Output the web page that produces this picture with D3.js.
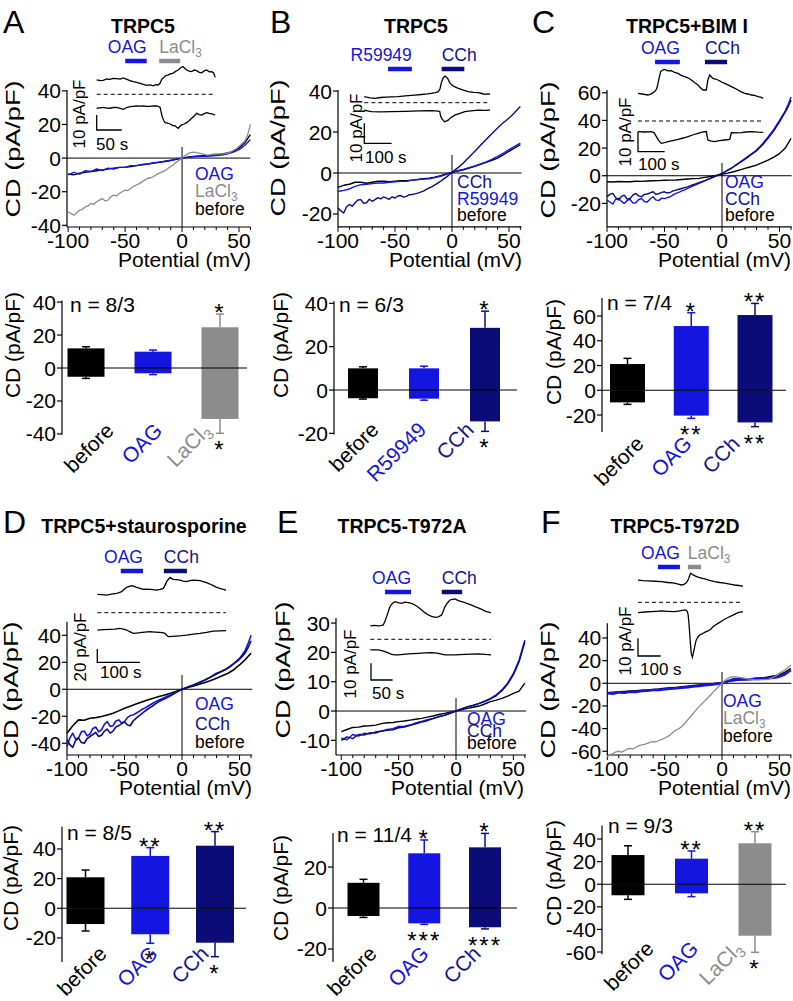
<!DOCTYPE html>
<html><head><meta charset="utf-8">
<script src="https://cdn.jsdelivr.net/npm/d3@7"></script>
<style>
body{margin:0;background:#fff}
svg{display:block}
text{font-family:"Liberation Sans",Arial,Helvetica,sans-serif}
</style>
</head><body>
<svg id="c" width="793" height="1001"></svg>
<script>
// ===================== DATA =====================
// membrane potentials (mV): 5 mV grid and 2.5 mV grid (for the noisier traces)
const V  = [-100,-95,-90,-85,-80,-75,-70,-65,-60,-55,-50,-45,-40,-35,-30,-25,-20,-15,-10,-5,0,5,10,15,20,25,30,35,40,45,50,55,60];
const V2 = [-100,-97.5,-95,-92.5,-90,-87.5,-85,-82.5,-80,-77.5,-75,-72.5,-70,-67.5,-65,-62.5,-60,-57.5,-55,-52.5,-50,-47.5,-45,-42.5,-40,-37.5,-35,-32.5,-30,-27.5,-25,-22.5,-20,-17.5,-15,-12.5,-10,-7.5,-5,-2.5,0,2.5,5,7.5,10,12.5,15,17.5,20,22.5,25,27.5,30,32.5,35,37.5,40,42.5,45,47.5,50,52.5,55,57.5,60];

// I-V current densities (pA/pF)
const A_before = [-9.5,-10,-9,-8.5,-8,-7.5,-7,-6.5,-6,-5.5,-5.5,-5,-4.5,-4,-3.5,-3,-2.5,-2,-1.5,-0.8,0,0.6,1,1.2,1.4,1.6,2,2.4,3,4,6,9,14];
const A_OAG    = [-10,-8.5,-9.5,-7.5,-8,-6.5,-7.5,-6,-6.5,-5.5,-5.5,-4.5,-4.5,-3.8,-3.5,-2.8,-2.5,-1.8,-1.3,-0.6,0,0.5,0.8,1,1,1.2,1.5,1.8,2.5,3.5,5,7.5,11];
const A_LaCl3  = [-32,-33,-34,-32.5,-31,-30.5,-29,-28.5,-27,-27.5,-26,-25,-24,-25.5,-25,-23,-22,-22.5,-21,-20,-19,-19.3,-18,-16.8,-16,-15.2,-14,-13,-12,-11.7,-11,-9.8,-9,-8.2,-7.5,-6.2,-5,-3.8,-2.5,-1.2,0,1.5,2.5,3.3,3.5,3.2,3,2.5,2,1.8,2,2.3,2.5,2.4,2.5,2.7,3,3.6,4.5,5.5,7,8.5,10,13.5,20];

const B_before = [-7,-6,-5.5,-4.5,-4.5,-5,-4.5,-4,-4,-4.2,-4,-3.8,-3.8,-3.5,-3.2,-2.8,-2.5,-2,-1.3,-0.5,0.3,1,1.6,2.4,3.2,4.2,5.2,6.2,7.3,8.8,10.6,12.2,13.8];
const B_R59949 = [-9,-8.5,-7.8,-6.5,-5.7,-5.5,-5.2,-4.9,-4.9,-4.5,-4.3,-4.1,-4,-3.5,-3.2,-3,-2.8,-2.2,-1.6,-0.7,0.3,1.1,1.8,2.6,3.4,4.4,5.4,6.6,8.1,9.6,11.4,13,14.6];
const B_CCh    = [-17,-18.5,-19.5,-16.5,-15.4,-16.2,-14.5,-13.2,-13,-14.8,-14.5,-12.8,-13.8,-13,-12,-12.6,-11.7,-12.3,-12.8,-11.6,-12.2,-11.2,-11,-11.8,-11.4,-10.6,-10.5,-10.2,-9.8,-9.3,-8.8,-8,-7.3,-6.6,-5.8,-4.9,-4,-3,-2,-0.9,0.3,1.4,2.5,3.7,4.9,6.3,7.7,9.1,10.6,12,13.5,14.9,16.3,17.8,19.2,20.6,22,23.3,24.5,25.6,26.8,28.1,29.5,31,32.5];

const C_before = [-4.3,-4.5,-4.2,-4.4,-4.3,-4,-4.1,-3.8,-3.6,-3.5,-3.3,-3.2,-3.1,-2.7,-2.4,-2.1,-1.9,-1.2,-0.6,0.2,1,1.9,2.9,4.1,5.3,6.5,7.7,9.5,11.3,13.5,16,20,27];
const C_OAG    = [-17.6,-19,-20.5,-17,-16.4,-18.5,-20,-18,-17,-19.8,-19.5,-17.2,-16.5,-18.6,-19,-16.8,-15.2,-17.5,-18,-16.2,-16.5,-15.8,-15.2,-13.8,-12.8,-12,-11,-10.2,-9.2,-8.3,-7.3,-6.4,-5.5,-4.6,-3.7,-2.8,-1.9,-1,0,0.8,1.7,2.8,4,5.2,6.5,8,9.5,11,12.5,14,15.5,17,18.6,20.7,23,25.5,28,30.7,33.5,36.7,40,43.5,47,51.5,57];
const C_CCh    = [-15.2,-13.5,-12.8,-15.8,-17.5,-15,-14,-16.8,-16.5,-14,-12.8,-14.6,-15.2,-13.5,-13.2,-12.4,-11.6,-13.4,-13,-12,-11.6,-12.5,-12,-11,-10.4,-9.8,-9.2,-8.6,-8,-7.2,-6.5,-5.8,-5,-4.2,-3.5,-2.7,-1.9,-1,0,0.8,1.7,2.8,4,5.2,6.5,7.8,9.2,10.6,12,13.5,15,16.5,18,20,22,24.5,27,29.7,32.5,35.7,39,42.5,46,50,54.7];

const D_before = [-32.6,-27,-22.7,-23,-21.5,-21,-20.2,-19,-17.8,-16,-14,-12.5,-10.9,-9.4,-7.9,-6.6,-5.4,-4.2,-3,-1.5,0,1.3,2.5,3.8,5,6.5,8.1,10,11.9,14.5,18,22,26.7];
const D_OAG    = [-42.5,-36,-32.6,-37,-36,-31.5,-31,-34.5,-33,-29,-28,-31.5,-30,-26,-24,-27.5,-27,-23.5,-22.7,-25,-24,-21,-19.5,-19,-17.8,-16.5,-15,-14,-12.8,-11.5,-10.2,-9,-7.9,-7,-6,-5,-4.2,-3,-2,-1,0,0.8,1.6,2.4,3.2,4.1,5,6,6.9,8.1,9.3,10.6,11.9,12.7,13.5,14.5,15.6,17.2,19,21,23,25.8,29,34,40];
const D_CCh    = [-37.5,-41,-43,-38,-36,-39.5,-40,-36.5,-35,-33.5,-32,-35,-34,-31,-29.5,-32.5,-31,-28,-27,-25.5,-24.2,-26.5,-27,-23.5,-21.5,-19.8,-18,-16.4,-14.8,-13.4,-12,-10.5,-9.1,-8,-7,-6,-4.9,-3.6,-2.3,-1.1,0,0.8,1.6,2.4,3.2,4.1,5,6,6.9,8,9,10.1,11.3,12.4,13.5,14.7,16,17.5,19,20.5,22.2,24.5,27,31,36];

const E_before = [-7,-6.3,-5.6,-5.5,-5.1,-5,-4.8,-4.3,-4,-3.9,-3.6,-3.4,-3.1,-2.8,-2.5,-2.1,-1.7,-1.2,-0.8,-0.4,0,0.5,0.9,1.3,1.7,2.4,3.2,3.7,4.3,5.1,6,6.8,9.5];
const E_OAG    = [-9.3,-9.8,-8,-8.5,-7.6,-7.8,-7.1,-6.9,-6.3,-6,-5.3,-5.2,-4.8,-4.1,-3.6,-3,-2.5,-1.9,-1.4,-0.7,0,0.8,1.5,2,2.6,3.4,4.3,5.5,7.2,9.5,12.8,17.4,24.2];
const E_CCh    = [-10,-8.8,-9.4,-8,-8.2,-7.4,-7.5,-6.8,-6.6,-6.4,-5.7,-5.5,-4.9,-4.4,-3.8,-3.3,-2.6,-2,-1.5,-0.8,0,0.6,1.4,1.9,2.5,3.2,4.1,5.2,6.9,9.2,12.3,16.8,23.5];

const F_before = [-8.2,-7.8,-7.5,-7.2,-6.8,-6.5,-6.1,-5.8,-5.4,-5,-4.4,-4,-3.6,-3.1,-2.6,-2,-1.5,-1,-0.5,0,0.5,1.5,2.2,2.8,3.2,3.6,4.2,4.8,5.5,6.4,7.4,9.8,13.2];
const F_OAG    = [-8.8,-9.3,-8,-8.4,-7.4,-7.6,-6.8,-6.5,-5.9,-5.8,-5.2,-4.8,-4.4,-3.9,-3.4,-2.9,-2.4,-1.8,-1.2,-0.5,0,1.8,3.5,3.7,3.5,3.6,4.1,4.3,4.4,5,5.9,8,11.8];
const F_LaCl3  = [-64.7,-63,-62,-60.5,-60,-60.8,-59.5,-58,-57.4,-57.8,-56.5,-55,-54.4,-54,-53,-52,-51.5,-51.8,-50.5,-49.5,-48.5,-47,-45.5,-43,-41.2,-40,-38.2,-35.5,-32.4,-29.5,-26.5,-23.5,-20.6,-18,-15.5,-13,-10.3,-7.6,-5,-2.5,0,2.5,4.4,5.4,5.9,5.6,5.2,4.8,4.4,4,3.6,3.2,2.9,3,3.2,3.3,3.5,4.3,5.5,7,8.8,10.3,12,14,16.2];

// inset time courses: [time (s), current density (pA/pF)]
const A_tUp  = [[0,9.6],[7,9.1],[13,9.3],[20,10.2],[27,10],[33,10.6],[40,10.4],[47,10.1],[53,10.9],[58,10.3],[63,9.6],[68,9],[73,8.4],[80,7.9],[87,7.3],[93,6.6],[100,6],[107,6.3],[113,5.6],[118,6.4],[123,6.2],[127,7.5],[130,10],[134,11.2],[137,12.2],[142,12.8],[147,13.6],[152,13.9],[157,15.1],[162,16],[167,17.3],[170,18.2],[173,18.4],[177,17],[180,16.2],[185,15.5],[190,15.1],[195,16.2],[200,15.8],[205,14.6],[210,14.4],[215,15.6],[220,16.2],[225,15],[230,15.1],[234,14.2],[237,11.3]];
const A_tLow = [[0,-9.3],[7,-9],[13,-8.7],[20,-9.2],[27,-9.3],[33,-8.8],[40,-8.7],[47,-9.4],[53,-10],[60,-8.8],[67,-8.2],[73,-8],[80,-7.8],[87,-7.9],[93,-7.8],[100,-8.1],[107,-8],[113,-7.7],[120,-7.8],[125,-8.3],[127,-8.9],[129,-12],[131,-14.9],[134,-17.5],[137,-18.9],[142,-19.2],[147,-19.8],[152,-20.8],[157,-21],[160,-22],[163,-22.7],[166,-21.5],[170,-20.4],[175,-19.8],[180,-18.9],[185,-17.5],[190,-16],[195,-14.5],[200,-12.7],[205,-13.5],[210,-13.8],[215,-12.9],[220,-12.2],[225,-12.7],[230,-13.1],[234,-13.5],[237,-13.8]];
const B_tUp  = [[0,3],[20,2.4],[39,2.2],[60,2.6],[80,2.8],[100,2.9],[124,3],[150,3.4],[185,3.8],[210,4.1],[230,4.4],[246,4.7],[260,5],[271,5.5],[277,7],[283,10.5],[289,12.5],[295,13.3],[300,12.8],[305,12.2],[312,10.2],[320,8.8],[330,8],[344,7.2],[360,6.4],[380,5.5],[400,5.2],[417,5],[430,4.6],[441,4.2],[450,4.4],[460,4.3]];
const B_tLow = [[0,-3.7],[20,-4.3],[27,-4.5],[60,-4.6],[100,-4.5],[150,-4.3],[200,-4.1],[246,-4],[270,-4.2],[276,-4.4],[279,-6.5],[283,-7.8],[290,-9],[293,-9.5],[300,-9.2],[307,-8.7],[315,-7.6],[331,-6.2],[350,-5.3],[368,-4.5],[390,-4.1],[417,-3.7],[440,-3.8],[460,-3.7]];
const C_tUp  = [[0,13.8],[15,13.5],[37.5,13],[50,13.6],[62.5,14.7],[70,16],[75,18.8],[80,22],[85,24.7],[92,25.5],[100,25.8],[112,25.1],[125,25.2],[137,24.3],[150,23.8],[162,22.8],[175,22.2],[187,21.6],[200,20.5],[212,19.2],[225,18],[235,16.5],[244,15.5],[256,15.5],[262,20.5],[269,23],[275,22.1],[281,21.3],[290,21],[300,20.5],[312,19.6],[325,18.8],[337,18.1],[350,17.2],[362,16.4],[375,15.5],[387,14.6],[400,13.8],[412,13.5],[425,13],[437,12.8],[450,12.2],[460,11.9],[469,11.3]];
const C_tLow = [[0,-5.3],[25,-5.5],[50,-5.3],[60,-5.8],[69,-7.8],[78,-9.8],[87.5,-11.2],[100,-10.8],[112.5,-10.3],[130,-9.8],[150,-9.2],[170,-8.5],[187.5,-7.8],[205,-7],[225,-6.2],[240,-5.6],[256,-5.3],[262,-9.5],[275,-10.1],[287.5,-10.3],[305,-9.8],[325,-9.5],[344,-9.2],[350,-5.8],[370,-5.9],[387.5,-5.8],[405,-5.5],[425,-5.3],[450,-5.6],[469,-5.7]];
const D_tUp  = [[0,27.5],[11,27],[21.9,26.5],[33,28],[45.3,29],[51,30],[57,31.5],[63,35],[68.8,38],[75,39.5],[80.5,40.5],[86,39.5],[92.2,38],[100,36.5],[107.8,35],[115,35.5],[123.4,35],[131,34.5],[139,34],[147,35],[154.7,36.5],[158.6,41],[162.5,46.5],[166.4,50],[170.3,53],[174,51.5],[178,50],[186,49.5],[193.8,49],[201,47.5],[209.4,46.5],[217,48],[225,49],[233,48.5],[240.6,48],[248.4,46.5],[256,45],[264,43],[272,40.5],[279.7,38],[287,36.5],[295.3,35],[301.6,34]];
const D_tLow = [[0,-26],[15,-25.5],[29.7,-25],[41,-24.5],[53.1,-23.5],[61,-24.5],[68.8,-26],[76,-28.5],[84.4,-31],[92,-30.5],[100,-30],[111,-29],[123.4,-28.5],[135,-29],[146.9,-29.5],[152,-30],[158.6,-31],[162,-33.5],[166.4,-36],[176,-35.5],[185.9,-35],[197,-34.5],[209.4,-33.5],[225,-32],[240.6,-31],[256,-29.5],[271.9,-27.5],[287,-27.2],[301.6,-27]];
const E_tUp  = [[0,8],[9,8.3],[18.5,8],[24,8.2],[30,8.6],[34,11],[37.7,13.6],[41.5,16.5],[45.4,19.6],[51,21.5],[56.9,22.6],[64.6,22],[72.3,21.6],[80,22.3],[87.7,22],[95,21.5],[103,20.6],[110.8,19.2],[118.5,17.6],[126,16],[133.8,14.6],[141.5,13.8],[149.2,13.2],[157,13.5],[164.6,14.6],[168.5,17],[172.3,19.6],[178,21.8],[183.8,23.6],[189.6,24],[195.4,24.2],[203,23.2],[210.8,22.6],[218.5,22],[226,21.2],[233.8,20.5],[241.5,19.6],[249.2,18.8],[256.9,18],[262.7,17.2],[268.5,16.6],[273.5,16.3],[278.5,16]];
const E_tLow = [[0,-6.4],[18.5,-6.4],[26,-6.8],[33.8,-7.4],[41.5,-8.2],[49.2,-9],[57,-9.3],[64.6,-9.4],[76,-9.1],[87.7,-8.8],[99,-8.6],[110.8,-8.4],[126,-8.2],[141.5,-8],[149.2,-8.1],[156.9,-8.4],[164.6,-8.9],[172.3,-9.4],[184,-9.4],[195.4,-9.4],[207,-9.2],[218.5,-9],[234,-8.9],[249.2,-8.8],[264,-9.1],[278.5,-9.4]];
const F_tUp  = [[0,12.6],[22,12.3],[44,12.1],[74,11.9],[103,11.7],[132,11.2],[162,10.8],[177,10.3],[191,9.8],[203,10.2],[213,11.1],[219,12.2],[224,13.6],[228,15.2],[232,16.4],[237,16],[243,15.5],[254,14.8],[265,14.2],[279,13.7],[294,13.2],[316,12.4],[338,11.7],[360,11.2],[382,10.8],[404,10.3],[426,9.8],[445,9.5],[463,9.2]];
const F_tLow = [[0,-5.8],[30,-5.5],[59,-5.3],[81,-5.1],[103,-4.9],[132,-5.1],[162,-5.3],[185,-4.8],[206,-4.3],[213,-4.5],[218,-5.3],[221,-7],[224,-10.9],[226,-14],[228,-17.5],[231,-23],[235,-28.9],[240,-31.1],[243,-29.5],[247,-27],[252,-24],[257,-21.3],[265,-19.5],[272,-18.5],[280,-18],[287,-17.5],[294,-17],[301,-16.6],[309,-16.2],[316,-15.7],[324,-14.8],[331,-13.8],[342,-12.8],[353,-11.9],[368,-10.7],[382,-9.6],[397,-8.6],[412,-7.7],[426,-6.8],[441,-5.8],[452,-5.5],[463,-5.3]];

// drug application windows (s)
const A_drugs = [["OAG",57,100],["LaCl3",125,167]];
const B_drugs = [["R59949",87,174],["CCh",283,366]];
const C_drugs = [["OAG",64,157],["CCh",251,334]];
const D_drugs = [["OAG",55,107],["CCh",156,210]];
const E_drugs = [["OAG",34,94],["CCh",165,212]];
const F_drugs = [["OAG",88,185],["LaCl3",220,278]];

// summary bar data: mean outward / inward CD and SEM end points
const A_cats = ["before","OAG","LaCl3"];
const A_pos = [11.9,9.9,24.7],  A_posErr = [12.9,10.9,32.7],  A_neg = [-5.3,-3.2,-30.9],  A_negErr = [-6.3,-4,-39.6];
const A_starTop = ["","","*"], A_starBot = ["","","*"];
const B_cats = ["before","R59949","CCh"];
const B_pos = [10,10,28.7],     B_posErr = [10.7,11,36.4],    B_neg = [-3.8,-4,-14.5],    B_negErr = [-4.2,-4.7,-19.1];
const B_starTop = ["","","*"], B_starBot = ["","","*"];
const C_cats = ["before","OAG","CCh"];
const C_pos = [21.2,51.9,60.8], C_posErr = [25.8,62.7,70.2],  C_neg = [-9.8,-20.5,-26],   C_negErr = [-11.4,-22.7,-29.4];
const C_starTop = ["","*","**"], C_starBot = ["","**","**"];
const D_cats = ["before","OAG","CCh"];
const D_pos = [20.9,35.3,42.2], D_posErr = [25.8,40.9,51.7],  D_neg = [-10.6,-17.5,-23.2], D_negErr = [-15.3,-23.6,-32.6];
const D_starTop = ["","**","**"], D_starBot = ["","*","*"];
const E_cats = ["before","OAG","CCh"];
const E_pos = [12.3,26.7,29.6], E_posErr = [14,33.2,36.4],    E_neg = [-3.9,-7.5,-9.4],   E_negErr = [-4.6,-8,-10.2];
const E_starTop = ["","*","*"], E_starBot = ["","***","***"];
const F_cats = ["before","OAG","LaCl3"];
const F_pos = [25.8,22.6,36.2], F_posErr = [34,29.4,46.5],    F_neg = [-9.8,-8.1,-45.6],  F_negErr = [-13.4,-11,-60.3];
const F_starTop = ["","**","**"], F_starBot = ["","","*"];

const nLabels = ["n = 8/3","n = 6/3","n = 7/4","n = 8/5","n = 11/4","n = 9/3"];
const titles = ["TRPC5","TRPC5","TRPC5+BIM I","TRPC5+staurosporine","TRPC5-T972A","TRPC5-T972D"];
const letters = ["A","B","C","D","E","F"];
const xTicksMajor = [-100,-50,0,50];

// ===================== STYLE / LAYOUT =====================
const COL = {before:"#000000", OAG:"#1515e2", R59949:"#1515e2", CCh:"#0c0c78", LaCl3:"#8c8c8c"};
const TXT = {before:"#000000", OAG:"#1515d8", R59949:"#1515d8", CCh:"#14148a", LaCl3:"#8c8c8c"};

const panels = [
 {letterX:3, titleX:143, top:0,
  iv:{xr:[67,250.4], xd:[-101,60], yr:[227,90], yd:[-41,40.5], yt:[-40,-20,0,20,40], vTop:6.6, ylab:[20,149], xlabEnd:251,
      series:[["before",A_before,V,1.4],["OAG",A_OAG,V,1.4],["LaCl3",A_LaCl3,V2,1.3]], leg:{x:195, ys:[180,197,215], items:["OAG","LaCl3","before"]}},
  ins:{x0:96.7, pxs:0.5, zy:94.3, pxu:1.5, up:A_tUp, low:A_tLow, drugs:A_drugs, drugY:61,
       sb:{x:96.7, y:130, u:10, s:50, ulab:"10 pA/pF", ulx:85, uly:114, slab:"50 s", slx:96, sly:150}},
  bar:{x0:62, yr:[434.8,300.4], yd:[-40.5,41], yt:[-40,-20,0,20,40], right:247, xr:[86,220], w:37,
       cats:A_cats, pos:A_pos, posErr:A_posErr, neg:A_neg, negErr:A_negErr, st:A_starTop, sb:A_starBot,
       n:[70,312], ylab:[20,345], lab:{xr:[115,212], y:432}}},
 {letterX:270, titleX:416, top:0,
  iv:{xr:[338,521.5], xd:[-100,61], yr:[226.9,90], yd:[-26.3,40.5], yt:[-20,0,20,40], vTop:8.8, ylab:[285,148], xlabEnd:522,
      series:[["before",B_before,V,1.4],["R59949",B_R59949,V,1.4],["CCh",B_CCh,V2,1.4]], leg:{x:457, ys:[188,205,221], items:["CCh","R59949","before"]}},
  ins:{x0:364.3, pxs:0.2733, zy:102.7, pxu:2, up:B_tUp, low:B_tLow, drugs:B_drugs, drugY:69,
       sb:{x:364.3, y:143.3, u:10, s:100, ulab:"10 pA/pF", ulx:362, uly:128, slab:"100 s", slx:365, sly:163}},
  bar:{x0:334, yr:[434.4,301.2], yd:[-20.5,41], yt:[-20,0,20,40], right:517, xr:[363,485], w:30,
       cats:B_cats, pos:B_pos, posErr:B_posErr, neg:B_neg, negErr:B_negErr, st:B_starTop, sb:B_starBot,
       n:[339,312], ylab:[288,345], lab:{xr:[380,475], y:431}}},
 {letterX:532, titleX:687, top:0,
  iv:{xr:[607,791.6], xd:[-100,60.5], yr:[226.9,90], yd:[-37,62], yt:[-20,0,20,40,60], vTop:9.2, ylab:[555,150], xlabEnd:791,
      series:[["before",C_before,V,1.4],["OAG",C_OAG,V2,1.4],["CCh",C_CCh,V2,1.4]], leg:{x:725, ys:[188,205,221], items:["OAG","CCh","before"]}},
  ins:{x0:638, pxs:0.2667, zy:121, pxu:2, up:C_tUp, low:C_tLow, drugs:C_drugs, drugY:62,
       sb:{x:638, y:151.7, u:10, s:100, ulab:"10 pA/pF", ulx:631, uly:132, slab:"100 s", slx:638, sly:170}},
  bar:{x0:602, yr:[431.95,298.1], yd:[-33.7,74.5], yt:[-20,0,20,40,60], right:786, xr:[627.5,755], w:35,
       cats:C_cats, pos:C_pos, posErr:C_posErr, neg:C_neg, negErr:C_negErr, st:C_starTop, sb:C_starBot,
       n:[607,310], ylab:[561,352], lab:{xr:[645,741], y:445}}},
 {letterX:3, titleX:144, top:500,
  iv:{xr:[67,252.2], xd:[-100,61], yr:[755,621.8], yd:[-48.7,50], yt:[-40,-20,0,20,40], vTop:10.6, ylab:[18,690], xlabEnd:252,
      series:[["before",D_before,V,1.6],["OAG",D_OAG,V2,1.6],["CCh",D_CCh,V2,1.6]], leg:{x:195, ys:[710,730,748], items:["OAG","CCh","before"]}},
  ins:{x0:97.3, pxs:0.4267, zy:612.7, pxu:0.6667, up:D_tUp, low:D_tLow, drugs:D_drugs, drugY:571,
       sb:{x:97.3, y:662.3, u:20, s:100, ulab:"20 pA/pF", ulx:86, uly:647, slab:"100 s", slx:100, sly:678}},
  bar:{x0:62, yr:[962,826.7], yd:[-36.2,55], yt:[-20,0,20,40], right:246, xr:[85.5,215], w:38,
       cats:D_cats, pos:D_pos, posErr:D_posErr, neg:D_neg, negErr:D_negErr, st:D_starTop, sb:D_starBot,
       n:[67,840], ylab:[18,878], lab:{xr:[108,210], y:955}}},
 {letterX:277, titleX:402, top:500,
  iv:{xr:[336,526], xd:[-104.6,61], yr:[755,618.1], yd:[-15,31.7], yt:[-10,0,10,20,30], vTop:4.4, ylab:[290,670], xlabEnd:524,
      series:[["before",E_before,V,1.4],["OAG",E_OAG,V,1.5],["CCh",E_CCh,V,1.4]], leg:{x:467, ys:[725,737,749], items:["OAG","CCh","before"]}},
  ins:{x0:370.3, pxs:0.4333, zy:639.3, pxu:1.667, up:E_tUp, low:E_tLow, drugs:E_drugs, drugY:592,
       sb:{x:371, y:680, u:10, s:50, ulab:"10 pA/pF", ulx:356, uly:664, slab:"50 s", slx:372, sly:699}},
  bar:{x0:333, yr:[961.9,833], yd:[-26.3,36.6], yt:[-20,0,20], right:517, xr:[363.5,485], w:32,
       cats:E_cats, pos:E_pos, posErr:E_posErr, neg:E_neg, negErr:E_negErr, st:E_starTop, sb:E_starBot,
       n:[337,842], ylab:[288,888], lab:{xr:[378,482], y:955}}},
 {letterX:541, titleX:675, top:500,
  iv:{xr:[607.3,791.4], xd:[-100,60.5], yr:[755,623.25], yd:[-63.3,53], yt:[-60,-40,-20,0,20,40], vTop:10, ylab:[555,690], xlabEnd:791,
      series:[["before",F_before,V,1.4],["OAG",F_OAG,V,2.6],["LaCl3",F_LaCl3,V2,1.3]], leg:{x:723, ys:[707,724,742], items:["OAG","LaCl3","before"]}},
  ins:{x0:638, pxs:0.2267, zy:602.3, pxu:1.767, up:F_tUp, low:F_tLow, drugs:F_drugs, drugY:567,
       sb:{x:638, y:656, u:10, s:100, ulab:"10 pA/pF", ulx:631, uly:641, slab:"100 s", slx:640, sly:675}},
  bar:{x0:602, yr:[954.26,825.44], yd:[-62,52], yt:[-60,-40,-20,0,20,40], right:786, xr:[628,755], w:33,
       cats:F_cats, pos:F_pos, posErr:F_posErr, neg:F_neg, negErr:F_negErr, st:F_starTop, sb:F_starBot,
       n:[608,833], ylab:[561,873], lab:{xr:[655,744], y:950}}}
];

// ===================== DRAW =====================
const svg = d3.select("#c");
svg.append("rect").attr("width",793).attr("height",1001).attr("fill","#fff");

function name(sel, nm){
  if(nm === "LaCl3"){
    sel.append("tspan").text("LaCl");
    sel.append("tspan").text("3").attr("font-size","0.68em").attr("dy","0.3em");
  } else sel.text(nm);
  return sel;
}

function drawIV(g, c){
  const x = d3.scaleLinear().domain(c.xd).range(c.xr);
  const y = d3.scaleLinear().domain(c.yd).range(c.yr);
  const ax = c.xr[0];
  g.append("line").attr("x1",ax).attr("x2",ax).attr("y1",y(c.yd[0])).attr("y2",y(c.yd[1])).attr("stroke","#000").attr("stroke-width",1.2);
  c.yt.forEach(t=>{
    g.append("line").attr("x1",ax-5).attr("x2",ax).attr("y1",y(t)).attr("y2",y(t)).attr("stroke","#000").attr("stroke-width",1.2);
    g.append("text").attr("x",ax-6).attr("y",y(t)+7.5).attr("text-anchor","end").attr("font-size",21).text(t);
  });
  const by = c.yr[0];
  g.append("line").attr("x1",ax).attr("x2",c.xr[1]).attr("y1",by).attr("y2",by).attr("stroke","#000").attr("stroke-width",1.2);
  d3.range(-100,61,10).forEach(t=>{
    const mj = xTicksMajor.includes(t);
    g.append("line").attr("x1",x(t)).attr("x2",x(t)).attr("y1",by).attr("y2",by+(mj?5:3)).attr("stroke","#000").attr("stroke-width",1);
  });
  xTicksMajor.forEach(t=>{
    g.append("text").attr("x",x(t)).attr("y",by+21).attr("text-anchor","middle").attr("font-size",21).text(t);
  });
  g.append("text").attr("x",c.xlabEnd).attr("y",by+40).attr("text-anchor","end").attr("font-size",21).text("Potential (mV)");
  g.append("text").attr("transform",`translate(${c.ylab[0]},${c.ylab[1]}) rotate(-90)`).attr("text-anchor","middle")
    .attr("font-size",21).attr("textLength",137).attr("lengthAdjust","spacingAndGlyphs").text("CD (pA/pF)");
  g.append("line").attr("x1",ax).attr("x2",c.xr[1]).attr("y1",y(0)).attr("y2",y(0)).attr("stroke","#000").attr("stroke-width",1);
  g.append("line").attr("x1",x(0)).attr("x2",x(0)).attr("y1",y(c.vTop)).attr("y2",by).attr("stroke","#000").attr("stroke-width",1);
  c.series.forEach(([nm,arr,volt,sw])=>{
    const line = d3.line().x((d,i)=>x(volt[i])).y(d=>y(d));
    g.append("path").attr("d",line(arr)).attr("fill","none").attr("stroke",COL[nm]).attr("stroke-width",sw).attr("stroke-linejoin","round");
  });
  c.leg.items.forEach((nm,i)=>{
    name(g.append("text").attr("x",c.leg.x).attr("y",c.leg.ys[i]).attr("font-size",17.5).attr("fill",TXT[nm]), nm);
  });
}

function drawInset(g, c){
  const t = d3.scaleLinear().domain([0,100]).range([c.x0, c.x0+100*c.pxs]);
  const v = d3.scaleLinear().domain([0,10]).range([c.zy, c.zy-10*c.pxu]);
  const tEnd = Math.max(c.up[c.up.length-1][0], c.low[c.low.length-1][0]);
  g.append("line").attr("x1",t(0)).attr("x2",t(tEnd)).attr("y1",v(0)).attr("y2",v(0))
    .attr("stroke","#000").attr("stroke-width",1).attr("stroke-dasharray","4,3");
  const ln = d3.line().x(d=>t(d[0])).y(d=>v(d[1]));
  [c.up,c.low].forEach(tr=>g.append("path").attr("d",ln(tr)).attr("fill","none").attr("stroke","#000").attr("stroke-width",1.3));
  c.drugs.forEach(([nm,s,e],i)=>{
    g.append("line").attr("x1",t(s)).attr("x2",t(e)).attr("y1",c.drugY).attr("y2",c.drugY).attr("stroke",COL[nm]).attr("stroke-width",4.5);
    name(g.append("text").attr("x", i===0 ? t(e) : t(s)).attr("y",c.drugY-8).attr("text-anchor", i===0 ? "end":"start")
      .attr("font-size",17.5).attr("fill",TXT[nm]), nm);
  });
  const s = c.sb;
  const sv = d3.scaleLinear().domain([0,s.u]).range([s.y, s.y - s.u*c.pxu]);
  const st = d3.scaleLinear().domain([0,s.s]).range([s.x, s.x + s.s*c.pxs]);
  g.append("path").attr("d",`M${s.x},${sv(s.u)}V${sv(0)}H${st(s.s)}`).attr("fill","none").attr("stroke","#000").attr("stroke-width",1.3);
  g.append("text").attr("transform",`translate(${s.ulx},${s.uly}) rotate(-90)`).attr("text-anchor","middle").attr("font-size",17).text(s.ulab);
  g.append("text").attr("x",s.slx).attr("y",s.sly).attr("font-size",17).text(s.slab);
}

function drawBar(g, c, nText){
  const y = d3.scaleLinear().domain(c.yd).range(c.yr);
  const x = d3.scalePoint().domain(c.cats).range(c.xr);
  const lx = d3.scalePoint().domain(c.cats).range(c.lab.xr);
  const ax = c.x0;
  g.append("line").attr("x1",ax).attr("x2",ax).attr("y1",y(c.yd[0])).attr("y2",y(c.yd[1])).attr("stroke","#000").attr("stroke-width",1.2);
  c.yt.forEach(t=>{
    g.append("line").attr("x1",ax-5).attr("x2",ax).attr("y1",y(t)).attr("y2",y(t)).attr("stroke","#000").attr("stroke-width",1.2);
    g.append("text").attr("x",ax-6).attr("y",y(t)+7.5).attr("text-anchor","end").attr("font-size",21).text(t);
  });
  g.append("text").attr("transform",`translate(${c.ylab[0]},${c.ylab[1]}) rotate(-90)`).attr("text-anchor","middle")
    .attr("font-size",21).text("CD (pA/pF)");
  c.cats.forEach((cat,i)=>{
    const cx = x(cat), col = COL[cat];
    g.append("rect").attr("x",cx-c.w/2).attr("width",c.w).attr("y",y(c.pos[i])).attr("height",y(0)-y(c.pos[i])).attr("fill",col);
    g.append("rect").attr("x",cx-c.w/2).attr("width",c.w).attr("y",y(0)).attr("height",y(c.neg[i])-y(0)).attr("fill",col);
    const ec = cat==="before" ? "#000" : col;
    [[c.pos[i],c.posErr[i]],[c.neg[i],c.negErr[i]]].forEach(([m,e])=>{
      g.append("line").attr("x1",cx).attr("x2",cx).attr("y1",y(m)).attr("y2",y(e)).attr("stroke",ec).attr("stroke-width",1.5);
      g.append("line").attr("x1",cx-4).attr("x2",cx+4).attr("y1",y(e)).attr("y2",y(e)).attr("stroke",ec).attr("stroke-width",1.5);
    });
    if(c.st[i]) g.append("text").attr("x",cx).attr("y",y(c.posErr[i])+7).attr("text-anchor","middle").attr("font-size",24).attr("letter-spacing",2).text(c.st[i]);
    if(c.sb[i]) g.append("text").attr("x",cx).attr("y",y(c.negErr[i])+25).attr("text-anchor","middle").attr("font-size",24).attr("letter-spacing",2).text(c.sb[i]);
    name(g.append("text").attr("transform",`translate(${lx(cat)},${c.lab.y}) rotate(-45)`).attr("text-anchor","end")
      .attr("font-size",21).attr("fill",TXT[cat]), cat);
  });
  g.append("line").attr("x1",ax).attr("x2",c.right).attr("y1",y(0)).attr("y2",y(0)).attr("stroke","#000").attr("stroke-width",1.1);
  g.append("text").attr("x",c.n[0]).attr("y",c.n[1]).attr("font-size",21).text(nText);
}

panels.forEach((p,k)=>{
  const g = svg.append("g");
  g.append("text").attr("x",p.letterX).attr("y",p.top+33).attr("font-size",32).text(letters[k]);
  g.append("text").attr("x",p.titleX).attr("y",p.top+33).attr("text-anchor","middle").attr("font-size",19.5).attr("font-weight","bold").text(titles[k]);
  drawIV(g, p.iv);
  drawInset(g, p.ins);
  drawBar(g, p.bar, nLabels[k]);
});
</script>
</body></html>
